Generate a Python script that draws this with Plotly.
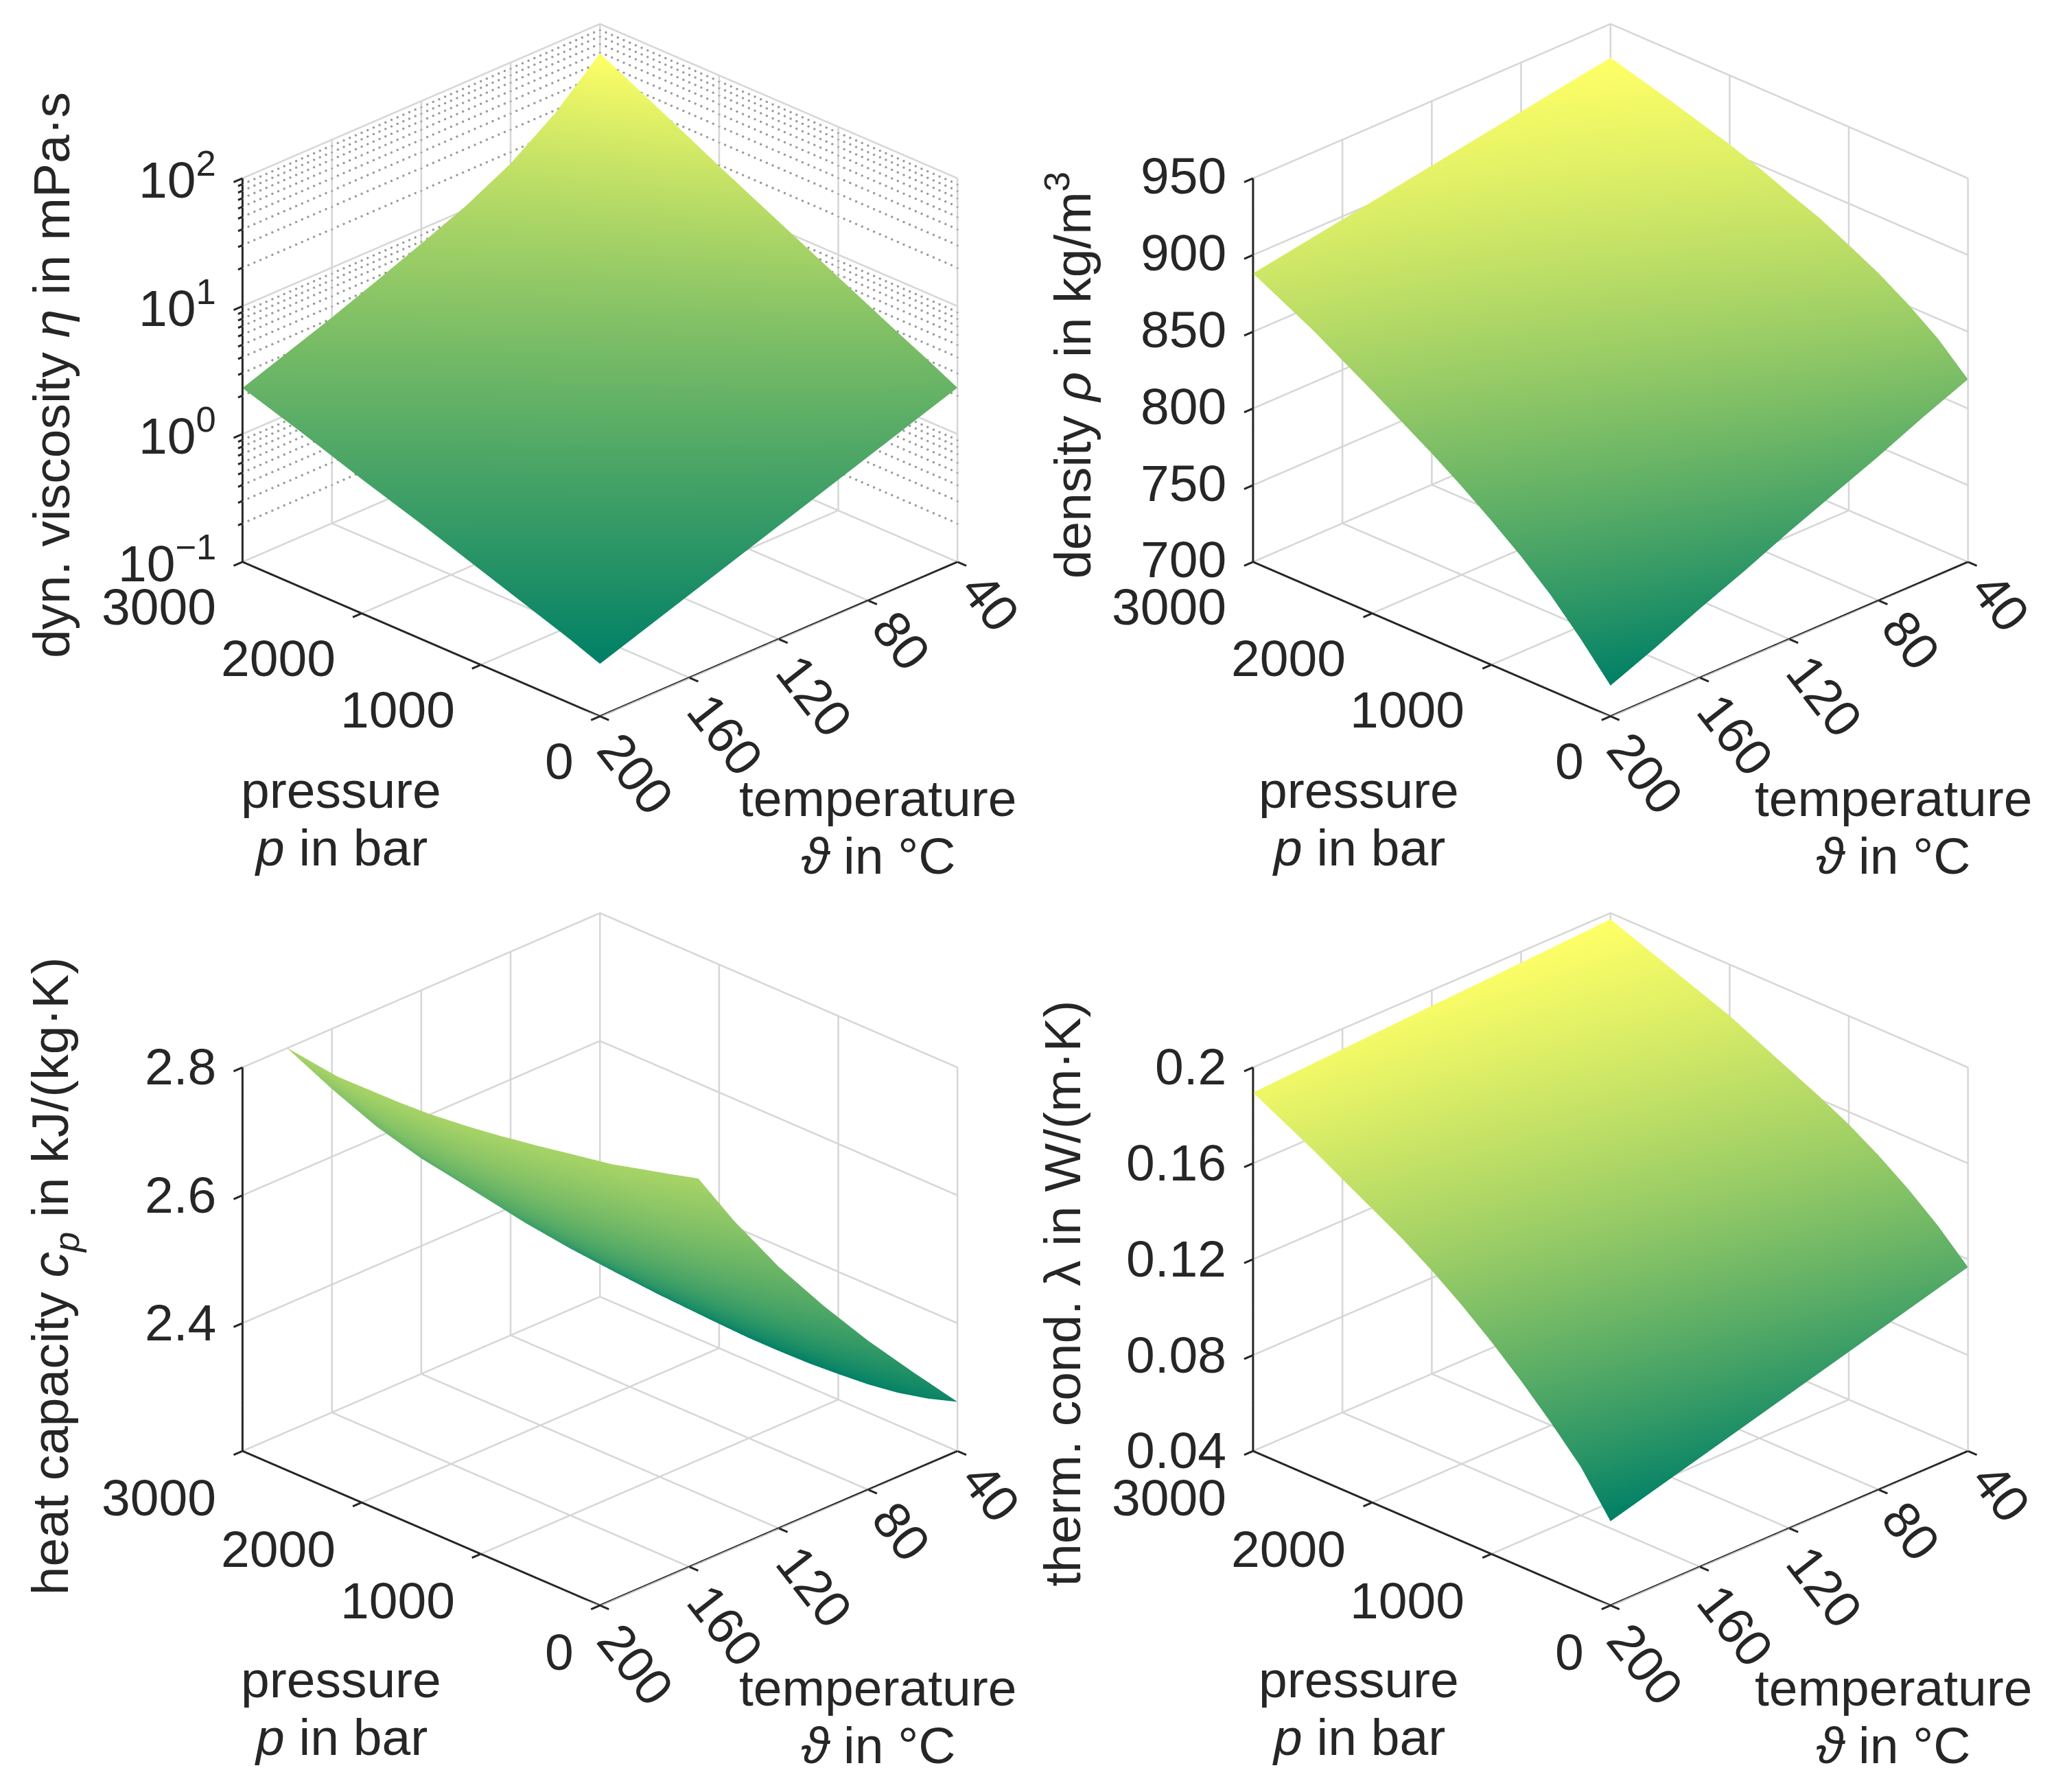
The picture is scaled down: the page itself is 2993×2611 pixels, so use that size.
import math
import plotly.graph_objects as go

# ---- data ----
pressure_bar = [0, 250, 500, 750, 1000, 1250, 1500, 1750, 2000, 2500, 3000]
temperature_c = [40, 60, 80, 100, 120, 140, 160, 180, 200]

log10_viscosity = [
    [0.362, 0.481, 0.593, 0.709, 0.825, 0.942, 1.058, 1.174, 1.291, 1.533, 1.77],
    [0.243, 0.348, 0.444, 0.543, 0.643, 0.744, 0.843, 0.943, 1.043, 1.251, 1.455],
    [0.124, 0.219, 0.305, 0.395, 0.485, 0.575, 0.664, 0.753, 0.841, 1.029, 1.21],
    [0.005, 0.095, 0.178, 0.263, 0.348, 0.433, 0.517, 0.6, 0.683, 0.86, 1.03],
    [-0.114, -0.024, 0.057, 0.14, 0.223, 0.305, 0.388, 0.468, 0.548, 0.72, 0.885],
    [-0.233, -0.144, -0.063, 0.018, 0.099, 0.18, 0.26, 0.339, 0.417, 0.584, 0.745],
    [-0.352, -0.262, -0.183, -0.104, -0.023, 0.057, 0.136, 0.213, 0.289, 0.453, 0.61],
    [-0.471, -0.381, -0.3, -0.222, -0.142, -0.063, 0.016, 0.092, 0.168, 0.33, 0.485],
    [-0.59, -0.50, -0.42, -0.34, -0.26, -0.18, -0.10, -0.025, 0.05, 0.21, 0.36],
]
density = [
    [819, 837, 851, 863, 873, 882.5, 890, 898, 905, 917, 928],
    [807, 825, 840, 852.5, 863, 873, 881.5, 890, 897.5, 911, 923],
    [794, 813, 829, 842, 853, 864, 873, 882, 890, 905, 918],
    [782, 801, 818, 831.5, 843.5, 854.5, 864, 874, 882.5, 899, 913],
    [770, 790, 806.5, 821, 833.5, 845, 855.5, 865.5, 875, 892.5, 908],
    [757, 778, 795, 810.5, 823.5, 836, 847, 857.5, 867.5, 886.5, 903],
    [745, 766, 784, 800, 813.5, 827, 838, 849, 860, 880, 898],
    [732, 754, 773, 789.5, 804, 817.5, 829.5, 841, 852.5, 874, 893],
    [720, 742, 762, 779, 794, 808, 821, 833, 845, 868, 888],
]
heat_capacity = [
    [2.277, 2.262, 2.251, 2.244, 2.24, 2.237, 2.236, 2.236, 2.238, 2.243, 2.252],
    [2.354, 2.337, 2.324, 2.316, 2.311, 2.306, 2.304, 2.303, 2.304, 2.309, 2.322],
    [2.433, 2.415, 2.399, 2.39, 2.383, 2.378, 2.375, 2.372, 2.373, 2.376, 2.392],
    [2.518, 2.497, 2.478, 2.468, 2.458, 2.452, 2.447, 2.444, 2.444, 2.446, 2.464],
    [2.609, 2.585, 2.563, 2.55, 2.54, 2.531, 2.525, 2.52, 2.519, 2.521, 2.537],
    [2.711, 2.682, 2.655, 2.64, 2.627, 2.616, 2.608, 2.602, 2.60, 2.60, 2.617],
    [2.824, 2.789, 2.757, 2.739, 2.722, 2.709, 2.698, 2.691, 2.687, 2.686, 2.706],
    [2.952, 2.909, 2.869, 2.848, 2.827, 2.81, 2.797, 2.787, 2.783, 2.781, 2.80],
    [3.095, 3.043, 2.995, 2.969, 2.944, 2.923, 2.907, 2.894, 2.888, 2.885, 2.90],
]
thermal_conductivity = [
    [0.1167, 0.1285, 0.1385, 0.1472, 0.1548, 0.1612, 0.167, 0.1728, 0.1786, 0.188, 0.1974],
    [0.1115, 0.124, 0.1344, 0.1435, 0.1515, 0.1584, 0.1646, 0.1706, 0.1766, 0.1866, 0.1964],
    [0.1063, 0.1195, 0.1303, 0.1398, 0.1482, 0.1556, 0.1621, 0.1685, 0.1746, 0.1851, 0.1954],
    [0.1011, 0.115, 0.1261, 0.136, 0.1449, 0.1527, 0.1597, 0.1663, 0.1726, 0.1837, 0.1944],
    [0.0959, 0.1105, 0.122, 0.1323, 0.1416, 0.1498, 0.1572, 0.1642, 0.1706, 0.1823, 0.1935],
    [0.0907, 0.106, 0.1179, 0.1286, 0.1384, 0.147, 0.1548, 0.162, 0.1685, 0.1808, 0.1925],
    [0.0855, 0.1015, 0.1138, 0.1249, 0.1351, 0.1442, 0.1524, 0.1598, 0.1665, 0.1794, 0.1915],
    [0.0803, 0.097, 0.1096, 0.1212, 0.1318, 0.1413, 0.1499, 0.1577, 0.1645, 0.178, 0.1905],
    [0.0751, 0.0925, 0.1055, 0.1175, 0.1285, 0.1385, 0.1475, 0.1555, 0.1625, 0.1765, 0.1895],
]
pressure_ticks = [0, 1000, 2000, 3000]
temperature_ticks = [40, 80, 120, 160, 200]
viscosity_ticks = [0.1, 1, 10, 100]
viscosity_ticktext = ["10<sup>−1</sup>", "10<sup>0</sup>", "10<sup>1</sup>", "10<sup>2</sup>"]
viscosity_minor = [a * d for d in (0.1, 1, 10) for a in (2, 3, 4, 5, 6, 7, 8, 9)]
density_ticks = [700, 750, 800, 850, 900, 950]
density_ticktext = ["700", "750", "800", "850", "900", "950"]
heat_ticks = [2.4, 2.6, 2.8]
heat_ticktext = ["2.4", "2.6", "2.8"]
cond_ticks = [0.04, 0.08, 0.12, 0.16, 0.2]
cond_ticktext = ["0.04", "0.08", "0.12", "0.16", "0.2"]

# ---- styling ----
W, H = 2993, 2611
FONT = "Liberation Sans"
INK = "#262626"
GRID = "#d6d6d6"
FS = 75
SUMMER = [[0, "rgb(0,128,102)"], [1, "rgb(255,255,102)"]]
LIGHT = dict(ambient=1, diffuse=0, specular=0, roughness=1, fresnel=0)
ASPECT_XY = 1.1844
ASPECT_Z = 0.9528
E_DIR = (-1.0, 1.0, 0.677)
SCALE = 653.0  # px per scene unit
DIST = 1.2
P_TICK = 75   # outward tick length in bar
T_TICK = 4    # outward tick length in deg C


def camera(dom_x, dom_y, target_x, target_y):
    n = math.sqrt(sum(c * c for c in E_DIR))
    e = [c / n for c in E_DIR]
    a = (target_x - (dom_x[0] + dom_x[1]) / 2 * W) / SCALE
    b = ((1 - (dom_y[0] + dom_y[1]) / 2) * H - target_y) / SCALE
    r = (-math.sqrt(0.5), -math.sqrt(0.5), 0.0)
    uz = math.sqrt(1 - e[2] ** 2)
    u = (-e[2] * e[0] / uz, -e[2] * e[1] / uz, (1 - e[2] * e[2]) / uz)
    c = [-a * r[i] - b * u[i] for i in range(3)]
    return dict(
        projection=dict(type="orthographic"),
        up=dict(x=0, y=0, z=1),
        center=dict(x=c[0], y=c[1], z=c[2]),
        eye=dict(x=c[0] + DIST * e[0], y=c[1] + DIST * e[1], z=c[2] + DIST * e[2]),
    )


def axis(tickvals, rng, **kw):
    d = dict(
        title=dict(text=""),
        tickmode="array",
        tickvals=tickvals,
        range=rng,
        autorange=False,
        showbackground=False,
        showgrid=False,
        showline=False,
        ticks="",
        showticklabels=False,
        zeroline=False,
        showspikes=False,
    )
    d.update(kw)
    return d


def scene(domx, domy, tx, ty, zaxis):
    return dict(
        domain=dict(x=domx, y=domy),
        camera=camera(domx, domy, tx, ty),
        aspectmode="manual",
        aspectratio=dict(x=ASPECT_XY, y=ASPECT_XY, z=ASPECT_Z),
        xaxis=axis(pressure_ticks, [-P_TICK, 3000 + P_TICK]),
        yaxis=axis(temperature_ticks, [40 - T_TICK, 200 + T_TICK]),
        zaxis=zaxis,
    )


def frame_traces(name, zticks, zlo, zhi, minor=()):
    px0, px1 = pressure_ticks[0], pressure_ticks[-1]
    ty0, ty1 = temperature_ticks[0], temperature_ticks[-1]
    gx, gy, gz = [], [], []
    for v in zticks:
        gx += [px1, px1, px0, None]
        gy += [ty1, ty0, ty0, None]
        gz += [v, v, v, None]
    for p in pressure_ticks:
        gx += [p, p, p, None]
        gy += [ty1, ty0, ty0, None]
        gz += [zlo, zlo, zhi, None]
    for t in temperature_ticks:
        gx += [px0, px1, px1, None]
        gy += [t, t, t, None]
        gz += [zlo, zlo, zhi, None]
    ax = [px1, px0, px0, None, px1, px1, None]
    ay = [ty1, ty1, ty0, None, ty1, ty1, None]
    az = [zlo, zlo, zlo, None, zlo, zhi, None]
    for p in pressure_ticks:
        ax += [p, p, None]
        ay += [ty1, ty1 + T_TICK, None]
        az += [zlo, zlo, None]
    for t in temperature_ticks:
        ax += [px0, px0 - P_TICK, None]
        ay += [t, t, None]
        az += [zlo, zlo, None]
    for v in zticks:
        ax += [px1, px1, None]
        ay += [ty1, ty1 + T_TICK, None]
        az += [v, v, None]
    for v in minor:
        ax += [px1, px1, None]
        ay += [ty1, ty1 + T_TICK / 2, None]
        az += [v, v, None]
    return [
        go.Scatter3d(x=gx, y=gy, z=gz, mode="lines", scene=name, hoverinfo="skip",
                     showlegend=False, line=dict(color=GRID, width=5)),
        go.Scatter3d(x=ax, y=ay, z=az, mode="lines", scene=name, hoverinfo="skip",
                     showlegend=False, line=dict(color=INK, width=6)),
    ]


fig = go.Figure()
viscosity = [[10 ** v for v in row] for row in log10_viscosity]
panels = [
    ("scene", viscosity, log10_viscosity, viscosity_ticks, 0.1, 100, viscosity_minor),
    ("scene2", density, density, density_ticks, 700, 950, ()),
    ("scene3", heat_capacity, heat_capacity, heat_ticks, 2.2, 2.8, ()),
    ("scene4", thermal_conductivity, thermal_conductivity, cond_ticks, 0.04, 0.2, ()),
]
for name, z, col, zt, zlo, zhi, minor in panels:
    fig.add_traces(frame_traces(name, zt, zlo, zhi, minor))
    fig.add_trace(go.Surface(
        x=pressure_bar, y=temperature_c, z=z, surfacecolor=col, colorscale=SUMMER,
        showscale=False, lighting=LIGHT, hoverinfo="skip", scene=name,
    ))

# dotted minor grid on the back walls of the logarithmic panel
mx, my, mz = [], [], []
for v in viscosity_minor:
    for i in range(61):
        mx.append(3000)
        my.append(200 - 160 * i / 60)
        mz.append(v)
        mx.append(3000 * i / 60)
        my.append(40)
        mz.append(v)
fig.add_trace(go.Scatter3d(x=mx, y=my, z=mz, mode="markers", scene="scene", hoverinfo="skip",
                           showlegend=False, marker=dict(color="#9a9a9a", size=2, line=dict(width=0))))

LX, RX = [0, 0.5], [0.5, 1]
TY, BY = [0.5, 1], [0, 0.5]
layout = dict(
    width=W, height=H, margin=dict(l=0, r=0, t=0, b=0), paper_bgcolor="white", showlegend=False,
    scene=scene(LX, TY, 866, 531, axis(viscosity_ticks, [-1.006, 2.006], type="log")),
    scene2=scene(RX, TY, 2338, 531, axis(density_ticks, [699.5, 950.5])),
    scene3=scene(LX, BY, 866, 1826, axis(heat_ticks, [2.1988, 2.8012])),
    scene4=scene(RX, BY, 2338, 1826, axis(cond_ticks, [0.03968, 0.20032])),
)

K = W / 1568


def label(text, tx_, ty_, angle=0, xanchor="center"):
    return dict(text=text, x=tx_ * K / W, y=1 - ty_ * K / H, xref="paper", yref="paper",
                xanchor=xanchor, yanchor="middle", showarrow=False, textangle=angle,
                font=dict(family=FONT, size=FS, color=INK))


ann = []
for dx, dy, ddx in ((0, 0, 0), (777, 0, 775), (0, 679, 0), (777, 679, 775)):
    ann.append(label("pressure", 256 + dx, 599 + dy))
    ann.append(label("<i>p</i> in bar", 256 + dx, 643 + dy))
    ann.append(label("temperature", 666 + ddx, 605 + dy))
    ann.append(label("<i>ϑ</i> in °C", 666 + ddx, 649 + dy))
ann.append(label("dyn. viscosity <i>η</i> in mPa·s", 35, 282, -90))
ann.append(label("density <i>ρ</i> in kg/m<sup>3</sup>", 812, 282, -90))
ann.append(label("heat capacity <i>c<sub>p</sub></i> in kJ/(kg·K)", 37, 970, -90))
ann.append(label("therm. cond. λ in W/(m·K)", 807, 983, -90))

# tick labels, placed from the tick values on each panel's projected box
z_labels = [
    (viscosity_ticks, viscosity_ticktext, lambda v: (math.log10(v) + 1) / 3),
    (density_ticks, density_ticktext, lambda v: (v - 700) / 250),
    (heat_ticks, heat_ticktext, lambda v: (v - 2.2) / 0.6),
    (cond_ticks, cond_ticktext, lambda v: (v - 0.04) / 0.16),
]
fronts = [(454, 543), (1225, 543), (454, 1223), (1225, 1223)]
for (fx, fy), (zv, zt, zn) in zip(fronts, z_labels):
    for p in pressure_ticks:
        u = p / 3000
        ann.append(label(str(p), fx - 273 * u - 19, fy - 118 * u + 34, xanchor="right"))
    for t in temperature_ticks:
        v = (200 - t) / 160
        ox, oy = (27, 43) if t >= 100 else (25, 30)
        ann.append(label(str(t), fx + 273 * v + ox, fy - 118 * v + oy, angle=52))
    for val, txt in zip(zv, zt):
        ann.append(label(txt, fx - 273 - 19, fy - 118 - 293 * zn(val) - 2, xanchor="right"))

layout["annotations"] = ann
fig.update_layout(**layout)
fig.write_html("out.html")
